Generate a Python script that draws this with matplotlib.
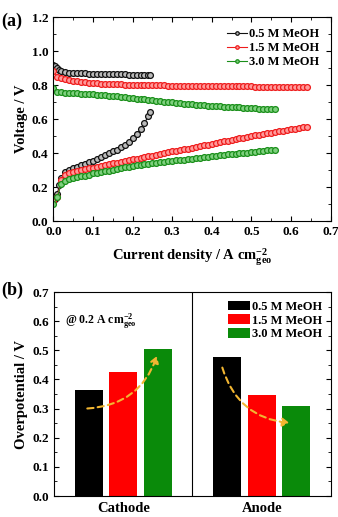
import matplotlib
matplotlib.use("Agg")
import matplotlib.pyplot as plt
from matplotlib.patches import FancyArrowPatch
from matplotlib.ticker import MultipleLocator

plt.rcParams['font.family'] = ['Liberation Serif', 'DejaVu Serif']
plt.rcParams['font.weight'] = 'bold'
plt.rcParams['mathtext.fontset'] = 'custom'
plt.rcParams['mathtext.rm'] = 'Liberation Serif:bold'
plt.rcParams['mathtext.bf'] = 'Liberation Serif:bold'
plt.rcParams['mathtext.default'] = 'bf'

# ---- (a) polarization data: current density (A/cm2), voltage (V) ----
labels = ['0.5 M MeOH', '1.5 M MeOH', '3.0 M MeOH']

x_05 = [0.0, 0.005, 0.01, 0.015, 0.02, 0.03, 0.04, 0.05, 0.06, 0.07,
        0.08, 0.09, 0.10, 0.11, 0.12, 0.13, 0.14, 0.15, 0.16, 0.17,
        0.18, 0.19, 0.20, 0.21, 0.22, 0.23, 0.24, 0.245]
up_05 = [0.918, 0.910, 0.898, 0.888, 0.880, 0.875, 0.873, 0.871, 0.870, 0.869,
         0.868, 0.867, 0.866, 0.866, 0.865, 0.865, 0.864, 0.864, 0.863, 0.863,
         0.863, 0.862, 0.862, 0.862, 0.861, 0.861, 0.861, 0.861]
lo_05 = [0.12, 0.13, 0.16, 0.21, 0.255, 0.29, 0.30, 0.31, 0.32, 0.33,
         0.338, 0.347, 0.356, 0.367, 0.378, 0.39, 0.40, 0.41, 0.42, 0.433,
         0.448, 0.465, 0.486, 0.51, 0.54, 0.575, 0.62, 0.64]

x_15 = [0.00, 0.01, 0.02, 0.03, 0.04, 0.05, 0.06, 0.07, 0.08, 0.09,
        0.10, 0.11, 0.12, 0.13, 0.14, 0.15, 0.16, 0.17, 0.18, 0.19,
        0.20, 0.21, 0.22, 0.23, 0.24, 0.25, 0.26, 0.27, 0.28, 0.29,
        0.30, 0.31, 0.32, 0.33, 0.34, 0.35, 0.36, 0.37, 0.38, 0.39,
        0.40, 0.41, 0.42, 0.43, 0.44, 0.45, 0.46, 0.47, 0.48, 0.49,
        0.50, 0.51, 0.52, 0.53, 0.54, 0.55, 0.56, 0.57, 0.58, 0.59,
        0.60, 0.61, 0.62, 0.63, 0.64]
up_15 = [0.880, 0.850, 0.840, 0.833, 0.828, 0.824, 0.821, 0.818, 0.816, 0.814,
         0.812, 0.810, 0.809, 0.808, 0.807, 0.806, 0.805, 0.804, 0.803, 0.803,
         0.802, 0.801, 0.801, 0.800, 0.800, 0.799, 0.799, 0.798, 0.798, 0.797,
         0.797, 0.797, 0.796, 0.796, 0.796, 0.795, 0.795, 0.795, 0.794, 0.794,
         0.794, 0.794, 0.793, 0.793, 0.793, 0.793, 0.792, 0.792, 0.792, 0.792,
         0.792, 0.791, 0.791, 0.791, 0.791, 0.791, 0.790, 0.790, 0.790, 0.790,
         0.790, 0.789, 0.789, 0.789, 0.789]
lo_15 = [0.120, 0.140, 0.240, 0.268, 0.280, 0.288, 0.294, 0.299, 0.304, 0.309,
         0.314, 0.319, 0.324, 0.329, 0.334, 0.339, 0.344, 0.349, 0.354, 0.358,
         0.363, 0.367, 0.372, 0.376, 0.381, 0.385, 0.390, 0.395, 0.400, 0.405,
         0.410, 0.414, 0.418, 0.422, 0.426, 0.430, 0.435, 0.440, 0.445, 0.450,
         0.455, 0.459, 0.464, 0.468, 0.473, 0.477, 0.482, 0.486, 0.491, 0.495,
         0.500, 0.504, 0.508, 0.512, 0.516, 0.520, 0.524, 0.528, 0.532, 0.536,
         0.540, 0.544, 0.548, 0.552, 0.555]

x_30 = [0.00, 0.01, 0.02, 0.03, 0.04, 0.05, 0.06, 0.07, 0.08, 0.09,
        0.10, 0.11, 0.12, 0.13, 0.14, 0.15, 0.16, 0.17, 0.18, 0.19,
        0.20, 0.21, 0.22, 0.23, 0.24, 0.25, 0.26, 0.27, 0.28, 0.29,
        0.30, 0.31, 0.32, 0.33, 0.34, 0.35, 0.36, 0.37, 0.38, 0.39,
        0.40, 0.41, 0.42, 0.43, 0.44, 0.45, 0.46, 0.47, 0.48, 0.49,
        0.50, 0.51, 0.52, 0.53, 0.54, 0.55, 0.56]
up_30 = [0.785, 0.760, 0.757, 0.755, 0.754, 0.752, 0.751, 0.750, 0.748, 0.747,
         0.745, 0.743, 0.741, 0.739, 0.737, 0.735, 0.733, 0.730, 0.727, 0.725,
         0.722, 0.720, 0.717, 0.715, 0.712, 0.710, 0.708, 0.705, 0.703, 0.700,
         0.698, 0.696, 0.694, 0.691, 0.689, 0.687, 0.685, 0.683, 0.681, 0.679,
         0.677, 0.676, 0.674, 0.673, 0.671, 0.670, 0.669, 0.668, 0.666, 0.665,
         0.664, 0.663, 0.662, 0.661, 0.660, 0.659, 0.657]
lo_30 = [0.100, 0.140, 0.220, 0.238, 0.248, 0.255, 0.259, 0.263, 0.267, 0.273,
         0.280, 0.284, 0.288, 0.292, 0.296, 0.300, 0.305, 0.310, 0.315, 0.320,
         0.324, 0.327, 0.330, 0.334, 0.337, 0.340, 0.343, 0.346, 0.349, 0.352,
         0.355, 0.357, 0.359, 0.361, 0.363, 0.365, 0.368, 0.371, 0.374, 0.377,
         0.380, 0.383, 0.386, 0.389, 0.392, 0.395, 0.397, 0.399, 0.401, 0.403,
         0.405, 0.408, 0.410, 0.413, 0.415, 0.418, 0.420]

# ---- (b) overpotential at 0.2 A/cm2 ----
groups = ['Cathode', 'Anode']
cathode_eta = [0.365, 0.425, 0.505]
anode_eta = [0.478, 0.348, 0.310]

line_cols = ['#111111', '#ee1c1c', '#1a8f1a']
face_cols = ['#bbbbbb', '#ff9a9a', '#7fd07f']
bar_cols = ['#000000', '#ff0000', '#0a8a0a']

fig = plt.figure(figsize=(3.38, 5.17), dpi=100)

# ----------------- panel (a) -----------------
ax1 = fig.add_axes([0.158, 0.5725, 0.82, 0.3945])
series = [(x_05, up_05, lo_05), (x_15, up_15, lo_15), (x_30, up_30, lo_30)]
for i, (xs, up, lo) in enumerate(series):
    kw = dict(color=line_cols[i], marker='o', ms=4.2, mfc=face_cols[i],
              mec=line_cols[i], mew=0.9, lw=0.8)
    ax1.plot(xs, up, label=labels[i], **kw)
    ax1.plot(xs, lo, **kw)

ax1.set_xlim(0, 0.7)
ax1.set_ylim(0, 1.2)
ax1.xaxis.set_major_locator(MultipleLocator(0.1))
ax1.xaxis.set_minor_locator(MultipleLocator(0.05))
ax1.yaxis.set_major_locator(MultipleLocator(0.2))
ax1.yaxis.set_minor_locator(MultipleLocator(0.1))
ax1.tick_params(which='both', direction='in', top=True, right=True, labelsize=9.5)
ax1.tick_params(which='major', length=3.5)
ax1.tick_params(which='minor', length=2)
ax1.set_xlabel(r'Current density / A cm$_{geo}^{-2}$', fontsize=10.5, fontweight='bold', labelpad=6)
ax1.set_ylabel('Voltage / V', fontsize=10.5, fontweight='bold', labelpad=3)
leg1 = ax1.legend(loc='upper right', frameon=False, fontsize=9, handlelength=1.6,
                  handletextpad=0.15, borderaxespad=0.5, labelspacing=0.15,
                  markerscale=0.6)
for t in leg1.get_texts():
    t.set_fontweight('bold')
fig.text(0.005, 0.975, '(a)', fontsize=13, fontweight='bold', va='top')

# ----------------- panel (b) -----------------
ax2 = fig.add_axes([0.160, 0.0406, 0.819, 0.3944])
cath_x = [0.125, 0.25, 0.375]
anode_x = [0.625, 0.75, 0.875]
for i in range(3):
    ax2.bar(cath_x[i], cathode_eta[i], width=0.1, color=bar_cols[i], label=labels[i])
    ax2.bar(anode_x[i], anode_eta[i], width=0.1, color=bar_cols[i])
ax2.axvline(0.5, color='black', lw=0.8)
ax2.set_xlim(0, 1)
ax2.set_ylim(0, 0.7)
ax2.set_xticks([0.25, 0.75])
ax2.set_xticklabels(groups, fontsize=10.5, fontweight='bold')
ax2.tick_params(axis='x', length=0, pad=4)
ax2.yaxis.set_major_locator(MultipleLocator(0.1))
ax2.yaxis.set_minor_locator(MultipleLocator(0.05))
ax2.tick_params(axis='y', which='both', direction='in', right=True, labelsize=9.5)
ax2.tick_params(axis='y', which='major', length=3.5)
ax2.tick_params(axis='y', which='minor', length=2)
ax2.set_ylabel('Overpotential / V', fontsize=10.5, fontweight='bold', labelpad=3)
leg2 = ax2.legend(loc='upper right', frameon=False, fontsize=9, handlelength=1.75,
                  handleheight=0.8, handletextpad=0.15, labelspacing=0.12,
                  borderaxespad=0.3)
for t in leg2.get_texts():
    t.set_fontweight('bold')
ax2.text(0.17, 0.6, r'@ 0.2 A cm$_{geo}^{-2}$', fontsize=8.5, ha='center', va='center')

arrow_col = '#f2b632'
a1 = FancyArrowPatch((0.11, 0.30), (0.375, 0.49), connectionstyle='arc3,rad=0.35',
                     arrowstyle='-|>,head_length=4,head_width=2.5', color=arrow_col,
                     lw=1.5, linestyle=(0, (3, 2)), mutation_scale=1)
a2 = FancyArrowPatch((0.605, 0.45), (0.86, 0.25), connectionstyle='arc3,rad=0.35',
                     arrowstyle='-|>,head_length=4,head_width=2.5', color=arrow_col,
                     lw=1.5, linestyle=(0, (3, 2)), mutation_scale=1)
ax2.add_patch(a1)
ax2.add_patch(a2)
fig.text(0.005, 0.455, '(b)', fontsize=13, fontweight='bold', va='top')

fig.savefig('out.png', dpi=100)
